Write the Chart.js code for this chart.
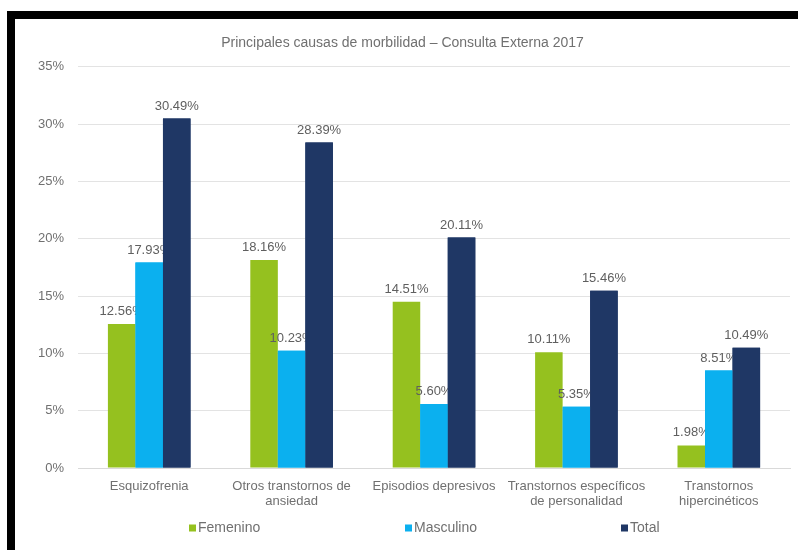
<!DOCTYPE html>
<html>
<head>
    <meta charset="UTF-8">
    <title>Principales causas de morbilidad</title>
    <script src="https://cdn.jsdelivr.net/npm/chart.js@4.4.1/dist/chart.umd.min.js"></script>
    <style>
        html, body {
            margin: 0;
            padding: 0;
            background: #fff;
        }
        .frame {
            position: absolute;
            left: 7px;
            top: 11px;
            width: 783px;
            height: 531px;
            border-top: 8px solid #000;
            border-left: 8px solid #000;
            background: #fff;
        }
        .chart-box {
            position: relative;
            width: 783px;
            height: 531px;
        }
    </style>
</head>
<body>
    <div class="frame">
        <div class="chart-box"><canvas id="grafico"></canvas></div>
    </div>

    <script>
        // datos
        const causas = [
            'Esquizofrenia',
            ['Otros transtornos de', 'ansiedad'],
            'Episodios depresivos',
            ['Transtornos específicos', 'de personalidad'],
            ['Transtornos', 'hipercinéticos']
        ];
        const femenino = [12.56, 18.16, 14.51, 10.11, 1.98];
        const masculino = [17.93, 10.23, 5.60, 5.35, 8.51];
        const total = [30.49, 28.39, 20.11, 15.46, 10.49];
        const ticksY = [0, 5, 10, 15, 20, 25, 30, 35];

        const colores = ['#95c11f', '#0bb0ef', '#1f3765'];
        const textoGris = '#707070';
        const fuente = "'Liberation Sans', Arial, sans-serif";

        // etiquetas de valor: cada serie queda tapada por las barras de la siguiente
        const etiquetasPlugin = {
            id: 'etiquetas',
            afterDatasetsDraw(chart) {
                const ctx = chart.ctx;
                const n = chart.data.datasets.length;
                for (let i = 0; i < n; i++) {
                    const meta = chart.getDatasetMeta(i);
                    ctx.save();
                    ctx.font = '13px ' + fuente;
                    ctx.fillStyle = '#5f5f5f';
                    ctx.textAlign = 'center';
                    ctx.textBaseline = 'bottom';
                    meta.data.forEach((bar, j) => {
                        const v = chart.data.datasets[i].data[j];
                        ctx.fillText(v.toFixed(2) + '%', bar.x, bar.y - 6);
                    });
                    ctx.restore();
                    if (i + 1 < n) {
                        chart.getDatasetMeta(i + 1).data.forEach(bar => bar.draw(ctx));
                    }
                }
            }
        };

        // leyenda dibujada en el canvas con casillas espaciadas
        const leyendaPlugin = {
            id: 'leyendaAncha',
            afterDraw(chart) {
                const ctx = chart.ctx;
                const inicio = 174;
                const paso = 216;
                const y = 509;
                ctx.save();
                ctx.font = '14px ' + fuente;
                ctx.textBaseline = 'middle';
                ctx.textAlign = 'left';
                chart.data.datasets.forEach((ds, i) => {
                    const x = inicio + i * paso;
                    ctx.fillStyle = ds.backgroundColor;
                    ctx.fillRect(x, y - 3.5, 7, 7);
                    ctx.fillStyle = textoGris;
                    ctx.fillText(ds.label, x + 9, y);
                });
                ctx.restore();
            }
        };

        new Chart(document.getElementById('grafico'), {
            type: 'bar',
            data: {
                labels: causas,
                datasets: [
                    { label: 'Femenino', data: femenino, backgroundColor: colores[0] },
                    { label: 'Masculino', data: masculino, backgroundColor: colores[1] },
                    { label: 'Total', data: total, backgroundColor: colores[2] }
                ]
            },
            options: {
                responsive: true,
                maintainAspectRatio: false,
                animation: false,
                datasets: {
                    bar: {
                        categoryPercentage: 0.58,
                        barPercentage: 1.0
                    }
                },
                layout: {
                    padding: { left: 0, right: 8, top: 0, bottom: 30 }
                },
                plugins: {
                    legend: { display: false },
                    tooltip: { enabled: false },
                    title: {
                        display: true,
                        text: 'Principales causas de morbilidad – Consulta Externa 2017',
                        color: textoGris,
                        font: { family: fuente, size: 14, weight: 'normal' },
                        padding: { top: 16, bottom: 15 }
                    }
                },
                scales: {
                    x: {
                        grid: { display: false, drawTicks: false },
                        border: { display: true, color: '#d9d9d9' },
                        ticks: {
                            color: textoGris,
                            font: { family: fuente, size: 13, lineHeight: 1.15 },
                            padding: 11,
                            maxRotation: 0,
                            autoSkip: false
                        }
                    },
                    y: {
                        min: ticksY[0],
                        max: ticksY[ticksY.length - 1],
                        afterFit(scale) { scale.width = 63; },
                        afterBuildTicks(scale) {
                            scale.ticks = ticksY.map(v => ({ value: v }));
                        },
                        grid: { color: '#e3e3e3', drawTicks: false },
                        border: { display: false },
                        ticks: {
                            color: textoGris,
                            font: { family: fuente, size: 13 },
                            padding: 14,
                            callback: v => v + '%'
                        }
                    }
                }
            },
            plugins: [etiquetasPlugin, leyendaPlugin]
        });
    </script>
</body>
</html>
